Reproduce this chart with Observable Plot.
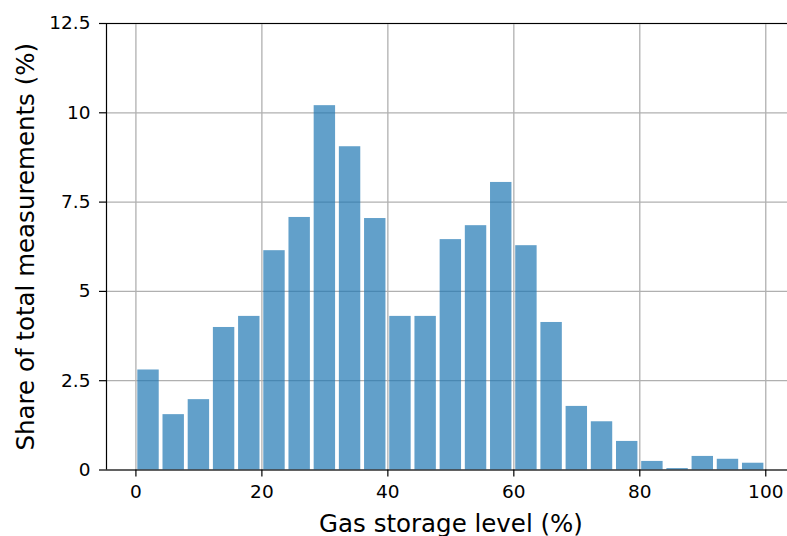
<!DOCTYPE html>
<html>
<head>
<meta charset="utf-8">
<script src="https://cdn.jsdelivr.net/npm/d3@7"></script>
<script src="https://cdn.jsdelivr.net/npm/@observablehq/plot@0.6"></script>
<style>
  html, body { margin: 0; padding: 0; background: #fff; }
  #chart svg { display: block; }
</style>
</head>
<body>
<div id="chart"></div>
<script>
// Histogram bins (start of each 4-point bin of gas storage level, %)
const binStart = [0, 4, 8, 12, 16, 20, 24, 28, 32, 36, 40, 44, 48, 52, 56, 60, 64, 68, 72, 76, 80, 84, 88, 92, 96];
const binWidth = 4;
// Share of total measurements (%) in each bin
const share = [2.80, 1.55, 1.97, 3.99, 4.30, 6.14, 7.07, 10.20, 9.05, 7.04, 4.30, 4.30, 6.45, 6.84, 8.05, 6.28, 4.13, 1.78, 1.35, 0.80, 0.24, 0.04, 0.38, 0.30, 0.19];
// Axis ticks
const xTicks = [0, 20, 40, 60, 80, 100];
const yTicks = [0, 2.5, 5, 7.5, 10, 12.5];
const xLabel = "Gas storage level (%)";
const yLabel = "Share of total measurements (%)";

const data = binStart.map((s, i) => ({start: s, end: s + binWidth, value: share[i]}));

const xDomain = [-4.67, 103.45];
const yDomain = [0, 12.5];

const chart = Plot.plot({
  width: 787,
  height: 536,
  marginLeft: 106,
  marginRight: 0,
  marginTop: 23,
  marginBottom: 66.5,
  style: {fontFamily: "DejaVu Sans", color: "black", background: "white"},
  x: {domain: xDomain},
  y: {domain: yDomain},
  marks: [
    Plot.gridX(xTicks, {stroke: "#b0b0b0", strokeOpacity: 1, strokeWidth: 1.3}),
    Plot.gridY(yTicks, {stroke: "#b0b0b0", strokeOpacity: 1, strokeWidth: 1.3}),
    Plot.rectY(data, {
      x1: "start", x2: "end", y1: 0, y2: "value",
      fill: "#1f77b4", fillOpacity: 0.7,
      insetLeft: 1.89, insetRight: 1.89
    }),
    Plot.axisX(xTicks, {
      tickSize: 7, tickPadding: 8, fontSize: 18.5,
      stroke: "black", strokeWidth: 1.2,
      tickFormat: d => String(d), label: null
    }),
    Plot.axisY(yTicks, {
      tickSize: 7, tickPadding: 9, fontSize: 18.5,
      stroke: "black", strokeWidth: 1.2,
      tickFormat: d => String(d), label: null
    }),
    Plot.ruleY([yDomain[0], yDomain[1]], {stroke: "black", strokeWidth: 1.2}),
    Plot.ruleX([xDomain[0]], {stroke: "black", strokeWidth: 1.2}),
    Plot.text([xLabel], {
      frameAnchor: "bottom", textAnchor: "middle", lineAnchor: "bottom",
      dx: 4, dy: 61.5, fontSize: 24.5, fill: "black"
    }),
    Plot.text([yLabel], {
      frameAnchor: "left", textAnchor: "middle", lineAnchor: "bottom",
      rotate: -90, dx: -73, fontSize: 24.5, fill: "black"
    })
  ]
});

document.getElementById("chart").appendChild(chart);
</script>
</body>
</html>
